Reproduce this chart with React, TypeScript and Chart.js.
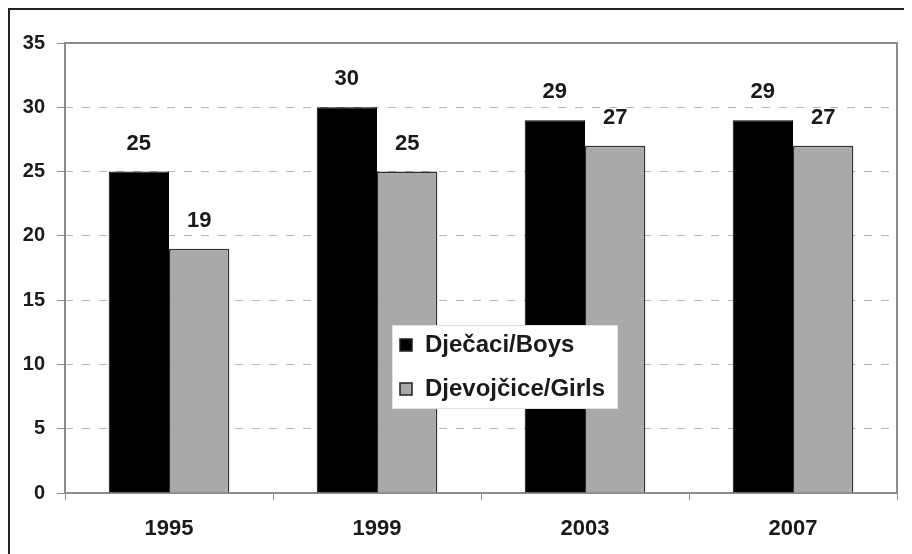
import React, { useEffect, useRef } from "react";
import { Chart, registerables } from "chart.js";

Chart.register(...registerables);

const categories = ["1995", "1999", "2003", "2007"];
const boys = [25, 30, 29, 29];
const girls = [19, 25, 27, 27];
const seriesLabels = ["Dječaci/Boys", "Djevojčice/Girls"];
const yTicks = [0, 5, 10, 15, 20, 25, 30, 35];

const FONT = "'Liberation Sans', Arial, Helvetica, sans-serif";

const framePlugin = {
  id: "frame",
  beforeDatasetsDraw(chart: any) {
    const { ctx, chartArea } = chart;
    ctx.save();
    ctx.strokeStyle = "#8c8c8c";
    ctx.lineWidth = 2;
    ctx.strokeRect(chartArea.left, chartArea.top, chartArea.right - chartArea.left, chartArea.bottom - chartArea.top);
    ctx.restore();
  },
};

const valueLabelPlugin = {
  id: "valueLabels",
  afterDatasetsDraw(chart: any) {
    const { ctx } = chart;
    ctx.save();
    ctx.font = `bold 22px ${FONT}`;
    ctx.fillStyle = "#1a1a1a";
    ctx.textAlign = "center";
    ctx.textBaseline = "middle";
    chart.data.datasets.forEach((ds: any, di: number) => {
      const meta = chart.getDatasetMeta(di);
      meta.data.forEach((bar: any, i: number) => {
        ctx.fillText(String(ds.data[i]), bar.x, bar.y - 28);
      });
    });
    ctx.restore();
  },
};

const legendPlugin = {
  id: "boxLegend",
  afterDraw(chart: any) {
    const { ctx } = chart;
    const x0 = 382, y0 = 315, w = 226, h = 84;
    ctx.save();
    ctx.fillStyle = "#ffffff";
    ctx.fillRect(x0, y0, w, h);
    ctx.strokeStyle = "#e2e2e2";
    ctx.lineWidth = 1;
    ctx.strokeRect(x0 + 0.5, y0 + 0.5, w - 1, h - 1);
    ctx.font = `bold 24px ${FONT}`;
    ctx.textBaseline = "middle";
    ctx.textAlign = "left";
    chart.data.datasets.forEach((ds: any, i: number) => {
      const cy = y0 + 20 + i * 44;
      ctx.fillStyle = ds.backgroundColor;
      ctx.fillRect(x0 + 8, cy - 6, 12, 12);
      ctx.strokeStyle = "#222";
      ctx.lineWidth = 1.5;
      ctx.strokeRect(x0 + 8, cy - 6, 12, 12);
      ctx.fillStyle = "#1a1a1a";
      ctx.fillText(ds.label, x0 + 33, cy);
    });
    ctx.restore();
  },
};

export default function App() {
  const ref = useRef<HTMLCanvasElement | null>(null);
  useEffect(() => {
    if (!ref.current) return;
    const chart = new Chart(ref.current, {
      type: "bar",
      data: {
        labels: categories,
        datasets: [
          {
            label: seriesLabels[0],
            data: boys,
            backgroundColor: "#000000",
            borderColor: "#000000",
            borderWidth: 1,
            categoryPercentage: 0.58,
            barPercentage: 1,
          },
          {
            label: seriesLabels[1],
            data: girls,
            backgroundColor: "#a9a9a9",
            borderColor: "#2e2e2e",
            borderWidth: 1.5,
            categoryPercentage: 0.58,
            barPercentage: 1,
          },
        ],
      },
      options: {
        animation: false,
        responsive: false,
        maintainAspectRatio: false,
        layout: { padding: { top: 33, right: 15, left: 0, bottom: 0 } },
        plugins: { legend: { display: false }, tooltip: { enabled: false } },
        scales: {
          x: {
            offset: true,
            afterFit: (s: any) => { s.height = 61; },
            grid: {
              offset: true,
              drawOnChartArea: false,
              drawTicks: true,
              tickLength: 7,
              color: "#8c8c8c",
              tickColor: "#8c8c8c",
            },
            border: { display: false },
            ticks: {
              padding: 16,
              color: "#1a1a1a",
              font: { family: FONT, size: 22, weight: "bold" },
            },
          },
          y: {
            min: 0,
            max: 35,
            afterFit: (s: any) => { s.width = 55; },
            afterBuildTicks: (s: any) => { s.ticks = yTicks.map((v) => ({ value: v })); },
            grid: {
              color: "#b4b4b4",
              lineWidth: 1,
              drawTicks: true,
              tickLength: 8,
              tickColor: "#8c8c8c",
              tickBorderDash: [],
            },
            border: { display: false, dash: [8, 9] },
            ticks: {
              padding: 12,
              color: "#1a1a1a",
              font: { family: FONT, size: 20, weight: "bold" },
            },
          },
        },
      },
      plugins: [framePlugin, valueLabelPlugin, legendPlugin],
    } as any);
    return () => chart.destroy();
  }, []);

  return (
    <div
      style={{
        width: 904,
        height: 546,
        borderTop: "2px solid #222",
        borderLeft: "2px solid #222",
        boxSizing: "border-box",
        background: "#fff",
        overflow: "hidden",
      }}
    >
      <canvas ref={ref} width={902} height={544} style={{ display: "block" }} />
    </div>
  );
}
